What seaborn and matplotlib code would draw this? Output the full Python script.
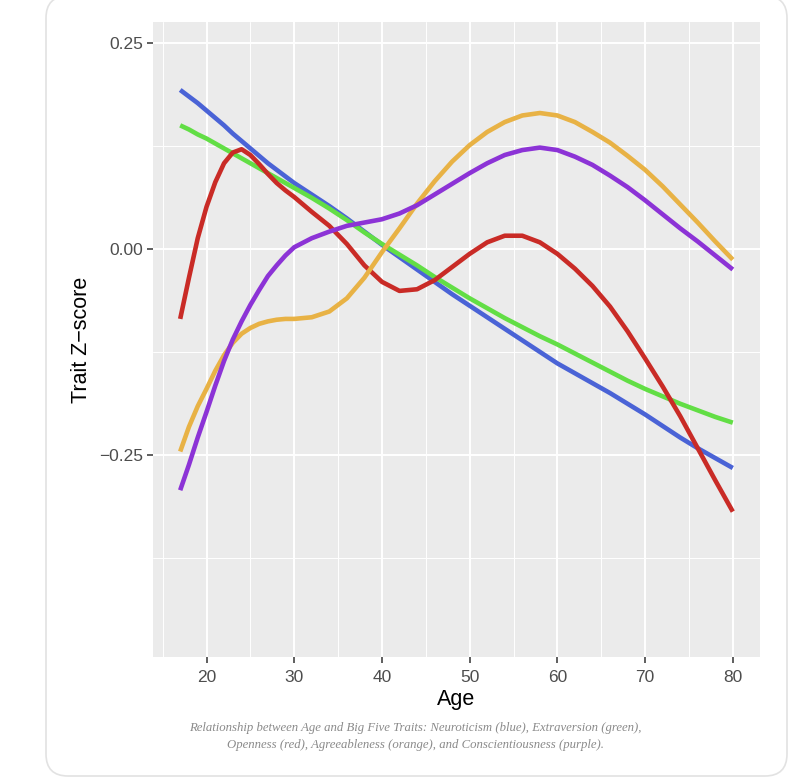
import numpy as np
import pandas as pd
import matplotlib
matplotlib.use("Agg")
import matplotlib.pyplot as plt
from matplotlib.patches import FancyBboxPatch
from matplotlib.ticker import MultipleLocator
import seaborn as sns

ages = [17, 18, 19, 20, 21, 22, 23, 24, 25, 26, 27, 28, 29, 30,
        32, 34, 36, 38, 40, 42, 44, 46, 48, 50, 52, 54, 56, 58,
        60, 62, 64, 66, 68, 70, 72, 74, 76, 78, 80]

neuroticism = [0.193, 0.185, 0.177, 0.168, 0.159, 0.150, 0.140, 0.131, 0.122, 0.113,
               0.104, 0.096, 0.088, 0.080,
               0.066, 0.052, 0.037, 0.021, 0.005, -0.010, -0.025, -0.040, -0.055,
               -0.069, -0.083, -0.097, -0.111, -0.125, -0.139, -0.151, -0.163,
               -0.175, -0.188, -0.201, -0.215, -0.229, -0.242, -0.254, -0.266]
extraversion = [0.150, 0.145, 0.139, 0.134, 0.128, 0.122, 0.116, 0.110, 0.104, 0.098,
                0.092, 0.086, 0.080, 0.074,
                0.062, 0.049, 0.035, 0.020, 0.006, -0.007, -0.020, -0.034, -0.047,
                -0.060, -0.072, -0.084, -0.095, -0.106, -0.116, -0.127, -0.138,
                -0.149, -0.160, -0.170, -0.179, -0.188, -0.196, -0.204, -0.211]
openness = [-0.085, -0.035, 0.013, 0.051, 0.081, 0.104, 0.117, 0.121, 0.114, 0.103,
            0.091, 0.080, 0.071, 0.063,
            0.045, 0.028, 0.006, -0.020, -0.040, -0.051, -0.049, -0.038, -0.022,
            -0.006, 0.008, 0.016, 0.016, 0.008, -0.006, -0.024, -0.045,
            -0.070, -0.100, -0.133, -0.167, -0.203, -0.242, -0.281, -0.319]
agreeableness = [-0.246, -0.216, -0.191, -0.170, -0.148, -0.129, -0.114, -0.103, -0.096,
                 -0.091, -0.088, -0.086, -0.085, -0.085,
                 -0.083, -0.076, -0.060, -0.035, -0.004, 0.025, 0.055, 0.082, 0.106,
                 0.126, 0.142, 0.154, 0.162, 0.165, 0.162, 0.154, 0.142,
                 0.129, 0.113, 0.096, 0.076, 0.054, 0.032, 0.009, -0.013]
conscientiousness = [-0.293, -0.262, -0.229, -0.198, -0.166, -0.136, -0.110, -0.088,
                     -0.068, -0.050, -0.033, -0.020, -0.008, 0.002,
                     0.013, 0.021, 0.028, 0.032, 0.036, 0.043, 0.053, 0.066, 0.079,
                     0.092, 0.104, 0.114, 0.120, 0.123, 0.120, 0.112, 0.102,
                     0.089, 0.075, 0.059, 0.042, 0.025, 0.009, -0.008, -0.025]

trait_names = ["Neuroticism", "Extraversion", "Openness", "Agreeableness", "Conscientiousness"]
trait_colors = ["#4A63D6", "#62DE45", "#C92B26", "#E8B245", "#8C33D6"]
x_ticks = [20, 30, 40, 50, 60, 70, 80]
y_ticks = [-0.25, 0.00, 0.25]
y_tick_labels = ["\u22120.25", "0.00", "0.25"]
caption = ("Relationship between Age and Big Five Traits: Neuroticism (blue), Extraversion (green),\n"
           "Openness (red), Agreeableness (orange), and Conscientiousness (purple).")

series = [neuroticism, extraversion, openness, agreeableness, conscientiousness]
df = pd.concat([pd.DataFrame({"Age": ages, "Z": s, "Trait": n})
                for s, n in zip(series, trait_names)], ignore_index=True)

sns.set_theme(style="darkgrid", rc={
    "axes.facecolor": "#EBEBEB",
    "grid.color": "white",
})
plt.rcParams["font.family"] = ["Liberation Sans", "DejaVu Sans"]

W, H = 800, 783
fig = plt.figure(figsize=(W / 100, H / 100), dpi=100)
fig.patch.set_facecolor("white")

# card behind everything
bg = fig.add_axes([0, 0, 1, 1], zorder=-5)
bg.set_axis_off()
bg.set_xlim(0, W)
bg.set_ylim(H, 0)
card = FancyBboxPatch((46, -4), 787 - 46, 776 + 4,
                      boxstyle="round,pad=0,rounding_size=22",
                      facecolor="white", edgecolor="#E2E2E2", linewidth=1.2)
bg.add_patch(card)

ax = fig.add_axes([153 / W, 1 - 657 / H, (760 - 153) / W, (657 - 22) / H])
ax.set_facecolor("#EBEBEB")

sns.lineplot(data=df, x="Age", y="Z", hue="Trait", hue_order=trait_names,
             palette=dict(zip(trait_names, trait_colors)), linewidth=3.3,
             legend=False, ax=ax, sort=True, solid_capstyle="butt",
             solid_joinstyle="round")

ax.set_xlim(13.9, 83.1)
ax.set_ylim(-0.4955, 0.2755)
ax.set_xticks(x_ticks)
ax.set_yticks(y_ticks)
ax.set_yticklabels(y_tick_labels)
ax.xaxis.set_minor_locator(MultipleLocator(5))
ax.yaxis.set_minor_locator(MultipleLocator(0.125))
ax.grid(which="major", color="white", linewidth=1.4)
ax.grid(which="minor", color="white", linewidth=0.7)
ax.set_axisbelow(True)
for sp in ax.spines.values():
    sp.set_visible(False)
ax.tick_params(axis="both", which="major", length=4, width=1.1, color="#333333",
               labelcolor="#4D4D4D", labelsize=12.5, pad=3, bottom=True, left=True)
ax.tick_params(axis="x", which="major", pad=5)
ax.tick_params(axis="both", which="minor", length=0)
ax.set_xlabel("Age", fontsize=15.5, color="black", labelpad=3)
ax.set_ylabel("Trait Z\u2212score", fontsize=15.5, color="black", labelpad=5)

fig.text(415 / W, 1 - 736.5 / H, caption, ha="center", va="center",
         fontsize=9.2, style="italic", color="#8A8A8A",
         family=["Liberation Serif", "DejaVu Serif"], linespacing=1.45)

fig.savefig("out.png", dpi=100, facecolor="white")
